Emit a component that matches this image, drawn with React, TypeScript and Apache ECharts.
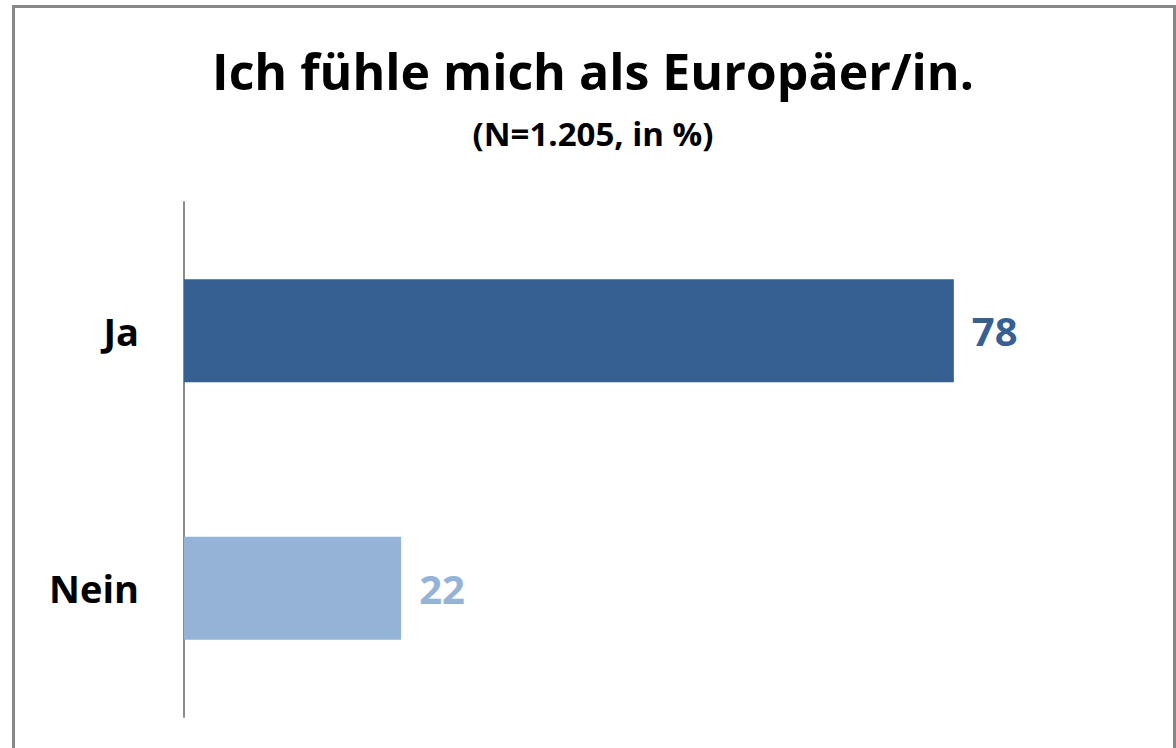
import React, { useEffect, useRef } from "react";
import * as echarts from "echarts";

const categories = ["Ja", "Nein"];
const values = [78, 22];
const barColors = ["#376092", "#95B3D7"];
const titleText = "Ich fühle mich als Europäer/in.";
const subtitleText = "(N=1.205, in %)";

const FONT = "'Open Sans', 'Noto Sans', sans-serif";

export default function App() {
  const ref = useRef<HTMLDivElement>(null);
  useEffect(() => {
    if (!ref.current) return;
    const chart = echarts.init(ref.current, undefined, { renderer: "svg" });
    chart.setOption({
      animation: false,
      backgroundColor: "#ffffff",
      graphic: [
        {
          type: "rect",
          shape: { x: 13.5, y: 6.5, width: 1161, height: 800 },
          style: { fill: "none", stroke: "#878787", lineWidth: 3 },
          silent: true,
        },
        {
          type: "text",
          x: 593,
          y: 71,
          style: {
            text: titleText,
            font: `bold 50px ${FONT}`,
            fill: "#000000",
            align: "center",
            verticalAlign: "middle",
          },
        },
        {
          type: "text",
          x: 593,
          y: 133,
          style: {
            text: subtitleText,
            font: `bold 33px ${FONT}`,
            fill: "#000000",
            align: "center",
            verticalAlign: "middle",
          },
        },
      ],
      grid: { left: 184, top: 202, bottom: 31, right: 5, containLabel: false },
      xAxis: {
        type: "value",
        min: 0,
        max: 100,
        show: false,
        splitLine: { show: false },
      },
      yAxis: {
        type: "category",
        data: categories,
        inverse: true,
        axisLine: { show: true, lineStyle: { color: "#8c8c8c", width: 2 } },
        axisTick: { show: false },
        axisLabel: {
          margin: 45,
          color: "#000000",
          fontFamily: FONT,
          fontWeight: "bold",
          fontSize: 38,
        },
      },
      series: [
        {
          type: "bar",
          barWidth: 103,
          data: values.map((v, i) => ({
            value: v,
            itemStyle: { color: barColors[i] },
            label: { color: barColors[i] },
          })),
          label: {
            show: true,
            position: "right",
            distance: 18,
            fontFamily: FONT,
            fontWeight: "bold",
            fontSize: 40,
          },
        },
      ],
    });
    return () => chart.dispose();
  }, []);
  return (
    <div
      ref={ref}
      style={{ position: "absolute", left: 0, top: 0, width: 1176, height: 748 }}
    />
  );
}
